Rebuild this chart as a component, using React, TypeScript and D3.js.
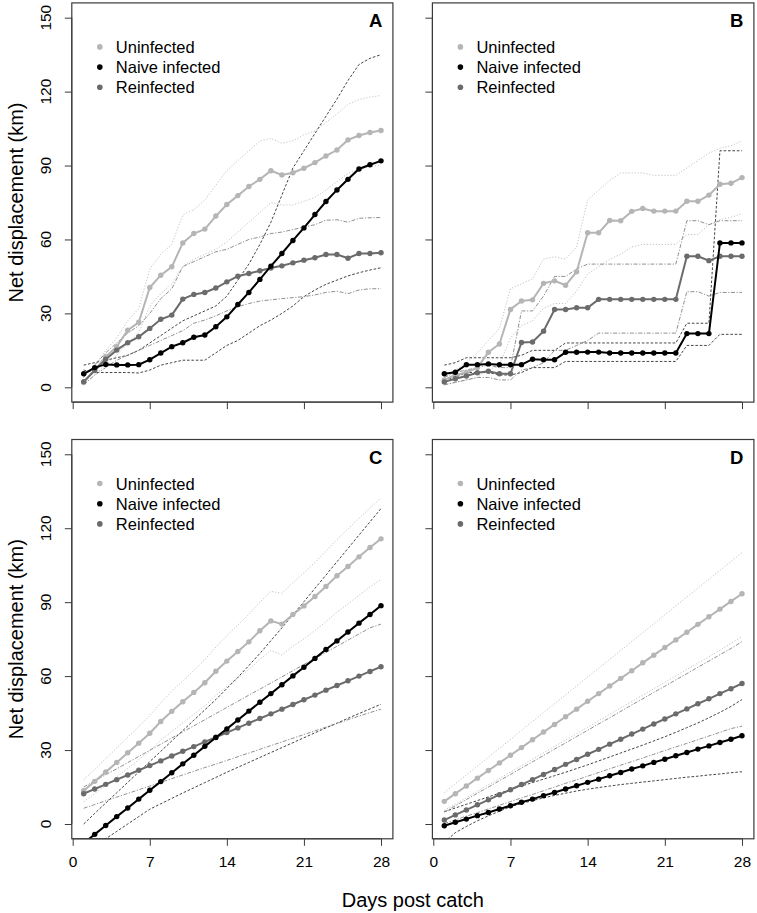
import React, { useEffect, useRef } from 'react'
import * as d3 from 'd3'

const days = [1, 2, 3, 4, 5, 6, 7, 8, 9, 10, 11, 12, 13, 14, 15, 16, 17, 18, 19, 20, 21, 22, 23, 24, 25, 26, 27, 28]
const xTicks = [0, 7, 14, 21, 28]
const yTicks = [0, 30, 60, 90, 120, 150]
const groupNames = ['Uninfected', 'Naive infected', 'Reinfected']
const panelLabels = ['A', 'B', 'C', 'D']

// panel A - observed
const aUninf = [2, 7, 12.4, 16.5, 23.2, 26.4, 40.5, 45.5, 48.9, 58.6, 62.4, 64.2, 69.5, 74.2, 77.8, 81.5, 84.4, 87.9, 86.2, 87.1, 88.9, 91.2, 93.9, 96.3, 100.4, 102.2, 103.4, 104.2]
const aNaive = [5.5, 8, 9.3, 9.1, 9.1, 9.2, 11.2, 13.9, 16.5, 18.1, 20.3, 21.2, 24.6, 28.6, 33.6, 38.5, 43.8, 49.2, 54.3, 59.6, 64.7, 70.1, 75.4, 80.1, 84.4, 88.6, 90.3, 91.9]
const aReinf = [2.3, 6.8, 11.4, 15.1, 18.1, 20.5, 23.9, 27.6, 29.3, 35.8, 37.7, 38.5, 40.3, 42.8, 45.1, 46.2, 47.3, 48.4, 49.3, 50.5, 51.6, 52.6, 53.9, 53.9, 52.4, 54.3, 54.3, 54.6]
const aUninfHi = [4, 9, 15, 20, 27, 32, 48, 54, 58, 70, 72, 76, 82, 88, 92, 96, 100, 101, 99, 100, 102.5, 104, 107.5, 111, 114.8, 116.8, 117.8, 118.4]
const aUninfLo = [1, 5, 9, 13, 18, 22, 33, 38, 42, 49, 52, 54, 56, 59, 63, 67, 71, 75, 74, 74, 75.5, 77, 80, 83.5, 86.8, 88.5, 89.5, 90.2]
const aNaiveHi = [9, 10, 11, 12, 13, 15, 18, 21, 24, 27, 29, 31, 33, 37, 43.5, 50, 58, 67, 78, 89, 96, 103, 110, 117, 124.5, 131, 133.5, 135]
const aNaiveLo = [7, 6, 6, 6, 6, 5.8, 7, 9, 10, 11, 11, 11, 14, 17, 19, 22, 25, 27.3, 30, 33, 36.8, 39.5, 41.8, 43.5, 45.2, 46.5, 47.6, 48.5]
const aReinfHi = [4, 9, 14, 18, 22, 25, 30, 36, 40, 49, 51, 53, 55, 56, 58, 60, 61, 62.4, 63, 64, 65, 66, 67.8, 68, 67, 68.6, 68.8, 68.9]
const aReinfLo = [1, 5, 8, 11, 13, 15, 17, 19, 21, 23, 26, 27.3, 29, 31, 32.7, 34, 35, 35.5, 36, 36.4, 36.8, 37.5, 38.5, 39, 38, 39.5, 40, 40]

// panel B - observed
const bUninf = [3, 5, 6, 8, 14.2, 17.6, 31.6, 35, 35.5, 42.2, 43.2, 41.4, 46.9, 62.7, 62.7, 67.7, 67.6, 71.4, 72.6, 71.5, 71.5, 71.5, 75.5, 75.5, 78, 82.4, 82.8, 85.1]
const bNaive = [5.5, 6.1, 9.2, 9.2, 9.5, 9.2, 9.2, 9.2, 11.4, 11.2, 11.2, 14.2, 14.2, 14.3, 14.3, 13.9, 13.9, 13.9, 13.9, 13.9, 13.9, 13.9, 21.8, 21.8, 21.8, 58.6, 58.6, 58.6]
const bReinf = [2.2, 3.5, 4.6, 5.9, 6.5, 5.5, 5.5, 18.2, 18.4, 22.8, 31.6, 31.6, 32.3, 32.3, 35.7, 35.7, 35.7, 35.7, 35.7, 35.7, 35.7, 35.7, 53.2, 53.2, 51.4, 53.2, 53.2, 53.2]
const bUninfHi = [4, 7, 10, 14, 19, 24, 40, 42, 44, 52, 53, 52, 57, 76, 80, 84, 87, 87, 87, 86, 86, 86, 89, 92, 95, 97, 98, 100]
const bUninfLo = [1, 2, 3, 4, 7, 9, 20, 25, 27, 32, 34, 34, 39, 46, 49, 52, 54, 57, 58, 58, 58, 58, 62, 62, 66, 68, 69, 70.5]
const bNaiveHi = [9, 10, 12, 12, 12, 12, 12, 13, 15, 15, 15, 18, 18, 18, 18, 18, 18, 18, 18, 18, 18, 18, 26, 26, 26, 96, 96, 96]
const bNaiveLo = [3, 4, 6, 6, 6, 5, 5, 6, 8, 8, 8, 10.5, 10.5, 10.5, 10.5, 10.5, 10.5, 10.5, 10.5, 10.5, 10.5, 10.5, 17, 17, 17, 21.5, 21.5, 21.5]
const bReinfHi = [4, 6, 7, 8, 9, 8, 8, 31, 31, 37, 45, 45, 48, 50, 50, 50, 50, 50, 50, 50, 50, 50, 67.6, 67.6, 66, 67.6, 67.6, 67.6]
const bReinfLo = [1, 2, 3, 4, 4, 3, 3, 7, 8, 10, 15, 15, 17, 19, 22, 22, 22, 22, 22, 22, 22, 22, 38.8, 38.8, 37, 38.5, 38.5, 38.5]

// panel C - fitted
const cUninf = [13.5, 17.3, 21.1, 25, 28.9, 32.8, 36.8, 41.6, 45.7, 49.6, 53.4, 57.3, 62, 66.1, 70, 73.9, 78.4, 82.4, 81.1, 85, 88.5, 92.3, 96.4, 100.7, 104.5, 108.4, 112.2, 115.7]
const cNaive = [-7.8, -4.2, -0.6, 3, 6.5, 10.1, 13.7, 17.2, 20.8, 24.4, 27.9, 31.5, 35.1, 38.6, 42.2, 45.8, 49.4, 52.9, 56.5, 60.1, 63.6, 67.2, 70.8, 74.3, 77.9, 81.5, 85, 88.6]
const cReinf = [12.3, 14.2, 16.1, 18, 19.9, 21.8, 23.7, 25.6, 27.6, 29.5, 31.4, 33.3, 35.2, 37.1, 39, 40.9, 42.8, 44.7, 46.6, 48.5, 50.4, 52.3, 54.3, 56.2, 58.1, 60, 61.9, 63.8]
const cUninfHi = [18, 22.2, 26.5, 30.8, 35.2, 39.5, 44, 49.2, 53.8, 58.1, 62.3, 66.7, 71.8, 76.4, 80.7, 85.1, 90, 94.4, 93.6, 97.9, 101.9, 106.1, 110.7, 115.4, 119.7, 124, 128.2, 132.2]
const cUninfLo = [9, 12.4, 15.7, 19.2, 22.6, 26.1, 29.6, 34, 37.6, 41.1, 44.5, 47.9, 52.2, 55.8, 59.3, 62.7, 66.8, 70.4, 68.6, 72.1, 75.1, 78.5, 82.1, 86, 89.3, 92.8, 96.2, 99.2]
const cNaiveHi = [0, 4.3, 8.5, 12.7, 16.9, 21.1, 25.3, 29.5, 33.7, 37.9, 42.1, 46.3, 50.5, 55, 59.5, 64.3, 69.2, 74.4, 79.6, 84.9, 90.2, 95.6, 101, 106.4, 111.8, 117.2, 122.6, 128]
const cNaiveLo = [-13, -9.5, -6, -3, 0, 3, 6, 8.2, 10.4, 12.6, 14.7, 16.8, 18.9, 21, 23, 25, 27, 29, 31, 33, 35, 37, 39, 40.9, 42.9, 44.8, 46.7, 48.6]
const cReinfHi = [15, 17.5, 20, 22.4, 24.9, 27.4, 29.9, 32.4, 34.9, 37.4, 39.8, 42.3, 44.8, 47.3, 49.8, 52.3, 54.7, 57.2, 59.7, 62.2, 64.7, 67.2, 69.6, 72.1, 74.6, 77.1, 79.6, 81.1]
const cReinfLo = [6.4, 7.9, 9.4, 10.9, 12.4, 13.9, 15.4, 16.9, 18.4, 19.9, 21.4, 22.9, 24.3, 25.8, 27.3, 28.8, 30.3, 31.8, 33.3, 34.8, 36.3, 37.8, 39.3, 40.8, 42.3, 43.8, 45.2, 46.6]

// panel D - fitted
const dUninf = [9.2, 12.3, 15.4, 18.6, 21.7, 24.8, 27.9, 31, 34.2, 37.3, 40.4, 43.5, 46.6, 49.8, 52.9, 56, 59.1, 62.2, 65.4, 68.5, 71.6, 74.7, 77.8, 81, 84.1, 87.2, 90.3, 93.4]
const dNaive = [-0.7, 0.7, 2, 3.4, 4.7, 6.1, 7.4, 8.8, 10.1, 11.5, 12.8, 14.2, 15.5, 16.9, 18.2, 19.6, 20.9, 22.3, 23.6, 25, 26.3, 27.7, 29, 30.4, 31.7, 33.1, 34.4, 35.8]
const dReinf = [1.6, 3.7, 5.7, 7.8, 9.8, 11.9, 13.9, 16, 18, 20.1, 22.1, 24.2, 26.2, 28.3, 30.3, 32.4, 34.4, 36.5, 38.5, 40.6, 42.6, 44.7, 46.7, 48.8, 50.8, 52.9, 54.9, 57]
const dUninfHi = [12.7, 16.3, 19.9, 23.5, 27.1, 30.7, 34.3, 38, 41.6, 45.2, 48.8, 52.4, 56, 59.6, 63.2, 66.8, 70.4, 74, 77.6, 81.2, 84.9, 88.5, 92.1, 95.7, 99.3, 102.9, 106.5, 110.1]
const dUninfLo = [5.5, 8.1, 10.7, 13.3, 15.9, 18.5, 21.1, 23.7, 26.3, 28.9, 31.5, 34.1, 36.7, 39.3, 41.9, 44.5, 47.1, 49.7, 52.3, 54.9, 57.5, 60.1, 62.7, 65.3, 67.9, 70.5, 73.3, 76]
const dNaiveHi = [5, 6.5, 8, 9.5, 11, 12.5, 14, 15.4, 16.8, 18.2, 19.6, 21, 22.5, 24, 25.6, 27.2, 28.8, 30.4, 32, 33.7, 35.4, 37.2, 39.1, 41, 43.1, 45.3, 47.7, 50.5]
const dNaiveLo = [-7.5, -3.5, -1, 1.3, 3.3, 5.2, 7, 8.3, 9.5, 10.6, 11.6, 12.5, 13.4, 14.1, 14.8, 15.4, 16, 16.5, 17, 17.5, 18, 18.5, 19, 19.4, 19.9, 20.3, 20.8, 21.2]
const dReinfHi = [4.8, 7.4, 9.9, 12.5, 15, 17.6, 20.1, 22.7, 25.2, 27.8, 30.4, 32.9, 35.5, 38, 40.6, 43.1, 45.7, 48.3, 50.8, 53.4, 55.9, 58.5, 61, 63.6, 66.1, 68.7, 71.2, 74]
const dReinfLo = [0.2, 1.7, 3.2, 4.6, 6.1, 7.6, 9.1, 10.6, 12, 13.5, 15, 16.5, 17.9, 19.4, 20.9, 22.4, 23.9, 25.3, 26.8, 28.3, 29.8, 31.3, 32.7, 34.2, 35.7, 37.2, 38.7, 39.7]

const W = 757, H = 913
const font = '"Liberation Sans", Arial, Helvetica, sans-serif'
const colors = ['#b5b5b5', '#000000', '#6b6b6b']
const bandColors = ['#b8b8b8', '#222222', '#7c7c7c']
const bandDash = ['1.2 1.8', '2.6 1.8', '4 1.6 1.2 1.6']

const colsPx = [[71.8, 392.9], [432.4, 753.9]]
const rowsPx = [[2.9, 402.1], [439.5, 838.8]]

const panels = [
    { col: 0, row: 0, mean: [aUninf, aNaive, aReinf], hi: [aUninfHi, aNaiveHi, aReinfHi], lo: [aUninfLo, aNaiveLo, aReinfLo] },
    { col: 1, row: 0, mean: [bUninf, bNaive, bReinf], hi: [bUninfHi, bNaiveHi, bReinfHi], lo: [bUninfLo, bNaiveLo, bReinfLo] },
    { col: 0, row: 1, mean: [cUninf, cNaive, cReinf], hi: [cUninfHi, cNaiveHi, cReinfHi], lo: [cUninfLo, cNaiveLo, cReinfLo] },
    { col: 1, row: 1, mean: [dUninf, dNaive, dReinf], hi: [dUninfHi, dNaiveHi, dReinfHi], lo: [dUninfLo, dNaiveLo, dReinfLo] },
]

export default function App() {
    const ref = useRef(null)

    useEffect(() => {
        const svg = d3.select(ref.current)
        svg.selectAll('*').remove()
        svg.append('rect').attr('width', W).attr('height', H).attr('fill', '#fff')

        panels.forEach((p, i) => {
            const [x0, x1] = colsPx[p.col]
            const [y0, y1] = rowsPx[p.row]
            const x = d3.scaleLinear().domain([-0.08, 29.08]).range([x0, x1])
            const y = d3.scaleLinear().domain([-6, 156]).range([y1, y0])
            const g = svg.append('g')

            const clipId = 'clip' + i
            svg.append('clipPath').attr('id', clipId)
                .append('rect').attr('x', x0).attr('y', y0).attr('width', x1 - x0).attr('height', y1 - y0)

            const plot = g.append('g').attr('clip-path', `url(#${clipId})`)
            const line = d3.line<number>().x((_, k) => x(days[k])).y(v => y(v))

            // confidence lines
            ;[0, 1, 2].forEach(s => {
                ;[p.hi[s], p.lo[s]].forEach(arr => {
                    plot.append('path')
                        .attr('d', line(arr))
                        .attr('fill', 'none')
                        .attr('stroke', bandColors[s])
                        .attr('stroke-width', 0.85)
                        .attr('stroke-dasharray', bandDash[s])
                })
            })

            // means: uninfected, reinfected, naive
            ;[0, 2, 1].forEach(s => {
                plot.append('path')
                    .attr('d', line(p.mean[s]))
                    .attr('fill', 'none')
                    .attr('stroke', colors[s])
                    .attr('stroke-width', 2)
                plot.selectAll(null)
                    .data(p.mean[s])
                    .enter().append('circle')
                    .attr('cx', (_, k) => x(days[k]))
                    .attr('cy', v => y(v))
                    .attr('r', 2.7)
                    .attr('fill', colors[s])
            })

            // box
            g.append('rect')
                .attr('x', x0).attr('y', y0).attr('width', x1 - x0).attr('height', y1 - y0)
                .attr('fill', 'none').attr('stroke', '#3a3a3a').attr('stroke-width', 1.2)

            // x axis
            const xAxis = d3.axisBottom(x).tickValues(xTicks).tickSize(7).tickSizeOuter(0)
                .tickFormat(p.row === 1 ? (d => String(d)) : () => '')
            const xg = g.append('g').attr('transform', `translate(0,${y1})`).call(xAxis)
            xg.select('.domain').remove()
            xg.append('path').attr('d', `M${x(0)},0H${x(28)}`).attr('stroke', '#3a3a3a')
            xg.selectAll('line').attr('stroke', '#3a3a3a')
            xg.selectAll('text').attr('font-family', font).attr('font-size', 15.5)
                .attr('fill', '#000').attr('y', 0).attr('dy', 0)
                .attr('transform', 'translate(0,28)')

            // y axis
            const yAxis = d3.axisLeft(y).tickValues(yTicks).tickSize(7).tickSizeOuter(0).tickFormat(() => '')
            const yg = g.append('g').attr('transform', `translate(${x0},0)`).call(yAxis)
            yg.select('.domain').remove()
            yg.append('path').attr('d', `M0,${y(0)}V${y(150)}`).attr('stroke', '#3a3a3a')
            yg.selectAll('line').attr('stroke', '#3a3a3a')
            if (p.col === 0) {
                g.selectAll(null).data(yTicks).enter().append('text')
                    .attr('transform', d => `translate(${x0 - 20.8},${y(d)}) rotate(-90)`)
                    .attr('text-anchor', 'middle')
                    .attr('font-family', font).attr('font-size', 15.5)
                    .text(d => d)
            }

            // panel letter
            g.append('text')
                .attr('x', x1 - 10.5).attr('y', y0 + 24.5)
                .attr('text-anchor', 'end')
                .attr('font-family', font).attr('font-weight', 'bold').attr('font-size', 18.5)
                .text(panelLabels[i])

            // legend
            groupNames.forEach((name, s) => {
                const ly = y0 + 44 + s * 20.2
                g.append('circle').attr('cx', x0 + 28).attr('cy', ly).attr('r', 2.8).attr('fill', colors[s])
                g.append('text')
                    .attr('x', x0 + 44).attr('y', ly + 6)
                    .attr('font-family', font).attr('font-size', 16.5)
                    .text(name)
            })
        })

        // outer titles
        const yMidTop = (rowsPx[0][0] + rowsPx[0][1]) / 2
        const yMidBot = (rowsPx[1][0] + rowsPx[1][1]) / 2
        ;[yMidTop, yMidBot].forEach(cy => {
            svg.append('text')
                .attr('transform', `translate(23,${cy}) rotate(-90)`)
                .attr('text-anchor', 'middle')
                .attr('font-family', font).attr('font-size', 20)
                .text('Net displacement (km)')
        })
        svg.append('text')
            .attr('x', (colsPx[0][0] + colsPx[1][1]) / 2).attr('y', 906.5)
            .attr('text-anchor', 'middle')
            .attr('font-family', font).attr('font-size', 20)
            .text('Days post catch')
    }, [])

    return <svg ref={ref} width={W} height={H} style={{ position: 'absolute', left: 0, top: 0 }} />
}
